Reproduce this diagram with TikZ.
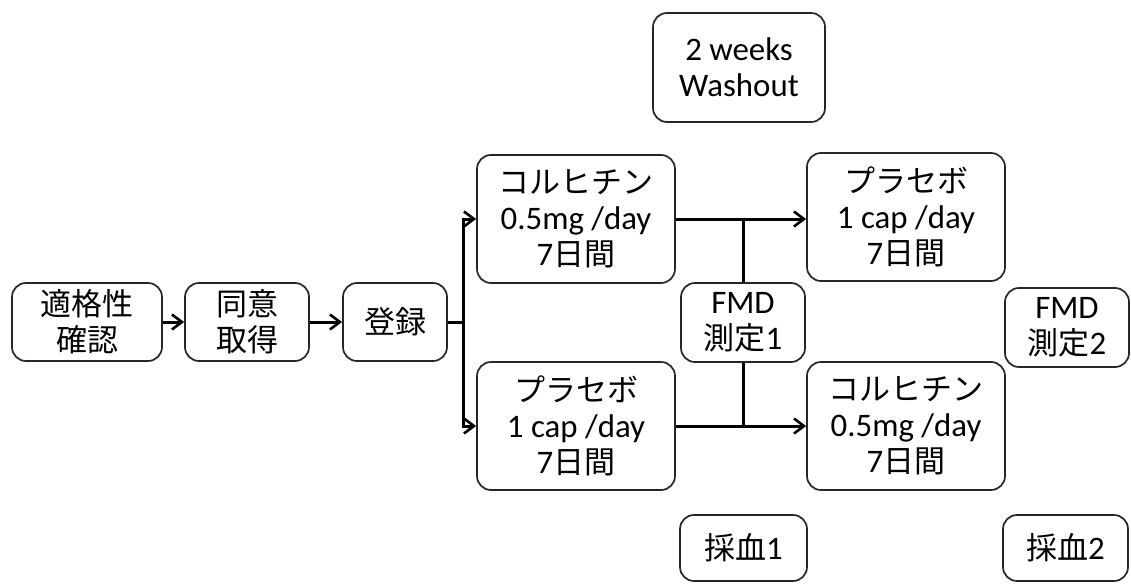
\documentclass[tikz,border=0pt]{standalone}
\usepackage{fontspec}
\setmainfont{Carlito}[Scale=1.06]
\newfontfamily\jpfont{Noto Sans CJK JP}
\newcommand{\jp}[1]{{\jpfont #1}}
\usetikzlibrary{arrows.meta}
\begin{document}
\begin{tikzpicture}[x=1pt,y=-1pt,
  box/.style={draw=black!85,line width=1.7pt,rounded corners=14pt,align=center,
    inner sep=0pt,font=\fontsize{31}{36}\selectfont},
  conn/.style={draw=black,line width=3pt},
  arr/.style={conn,-{Straight Barb[length=10pt,width=15pt,line width=2.6pt]}}]
\useasboundingbox (0,0) rectangle (1131,583);
\node[box,minimum width=150pt,minimum height=78pt] (A) at (87,322) {\jp{適格性}\\\jp{確認}};
\node[box,minimum width=124pt,minimum height=78pt] (B) at (247,322) {\jp{同意}\\\jp{取得}};
\node[box,minimum width=104pt,minimum height=78pt] (C) at (395,322) {\jp{登録}};
\node[box,minimum width=198pt,minimum height=128pt] (D) at (576,219) {\jp{コルヒチン}\\0.5mg /day\\7\jp{日間}};
\node[box,minimum width=198pt,minimum height=128pt] (E) at (576,426) {\jp{プラセボ}\\1 cap /day\\7\jp{日間}};
\node[box,minimum width=124pt,minimum height=79pt] (F) at (743,322.5) {FMD\\\jp{測定}1};
\node[box,minimum width=198pt,minimum height=128pt] (G) at (906,217) {\jp{プラセボ}\\1 cap /day\\7\jp{日間}};
\node[box,minimum width=198pt,minimum height=128pt] (H) at (906,426) {\jp{コルヒチン}\\0.5mg /day\\7\jp{日間}};
\node[box,minimum width=124pt,minimum height=79pt] (I) at (1067,327.5) {FMD\\\jp{測定}2};
\node[box,minimum width=172pt,minimum height=109pt] (J) at (739,67.5) {2 weeks\\Washout};
\node[box,minimum width=127pt,minimum height=66pt] (K) at (743.5,548) {\jp{採血}1};
\node[box,minimum width=125pt,minimum height=66pt] (L) at (1065.5,548) {\jp{採血}2};
\draw[arr] (A) -- (B);
\draw[arr] (B) -- (C);
\draw[conn] (C.east) -- ++(16,0) coordinate (br);
\draw[arr] (br) |- (D.west);
\draw[arr] (br) |- (E.west);
\draw[arr] (D.east) -- (D.east -| G.west);
\draw[arr] (E.east) -- (E.east -| H.west);
\draw[conn] (F.north) -- (F.north |- D.east);
\draw[conn] (F.south) -- (F.south |- E.east);
\end{tikzpicture}
\end{document}
